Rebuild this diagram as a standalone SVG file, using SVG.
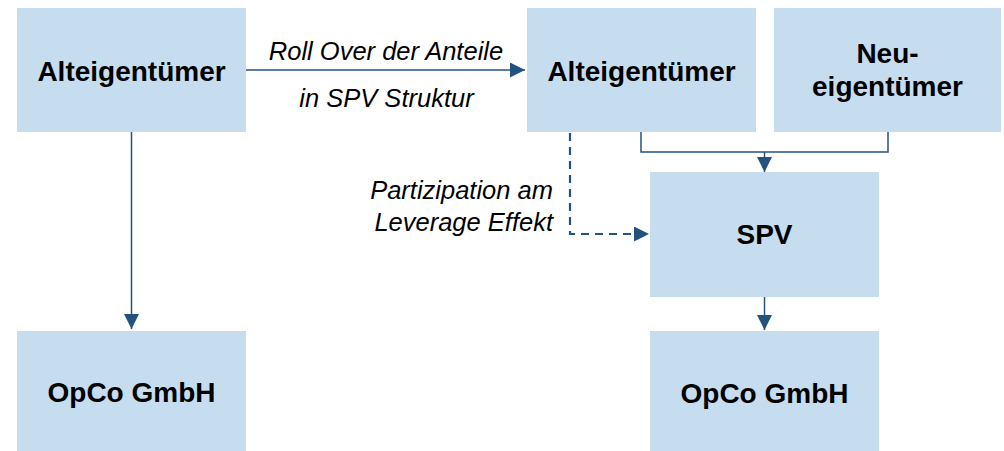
<svg xmlns="http://www.w3.org/2000/svg" width="1004" height="451" viewBox="0 0 1004 451">
  <style>
    .box { fill: #C6DDF0; }
    .lbl { font-family: "Liberation Sans", Arial, sans-serif; font-weight: bold; font-size: 28px; fill: #000; text-anchor: middle; }
    .note { font-family: "Liberation Sans", Arial, sans-serif; font-style: italic; font-size: 25.5px; fill: #000; }
    .wire { fill: none; stroke: #24527F; stroke-width: 1.5; }
    .dash { fill: none; stroke: #24527F; stroke-width: 2.2; stroke-dasharray: 8 6; }
  </style>
  <defs>
    <marker id="head" markerUnits="userSpaceOnUse" markerWidth="15" markerHeight="15" refX="15" refY="7.5" orient="auto">
      <path d="M0,0 L15,7.5 L0,15 z" fill="#24527F"/>
    </marker>
  </defs>
  <rect width="1004" height="451" fill="#fff"/>

  <g id="alt-links">
    <rect class="box" x="17" y="8" width="229" height="124"/>
    <text class="lbl" x="131.5" y="81">Alteigentümer</text>
  </g>
  <g id="opco-links">
    <rect class="box" x="17" y="331" width="229" height="120"/>
    <text class="lbl" x="131.5" y="402">OpCo GmbH</text>
  </g>
  <g id="alt-rechts">
    <rect class="box" x="527" y="8" width="229" height="124"/>
    <text class="lbl" x="641.5" y="81">Alteigentümer</text>
  </g>
  <g id="neu">
    <rect class="box" x="774" y="8" width="227" height="124"/>
    <text class="lbl" x="887.5" y="63">Neu-</text>
    <text class="lbl" x="887.5" y="96">eigentümer</text>
  </g>
  <g id="spv">
    <rect class="box" x="650" y="172" width="229" height="125"/>
    <text class="lbl" x="764.5" y="244">SPV</text>
  </g>
  <g id="opco-rechts">
    <rect class="box" x="650" y="331" width="229" height="120"/>
    <text class="lbl" x="764.5" y="403">OpCo GmbH</text>
  </g>

  <g id="connectors">
    <path class="wire" d="M131.5,132 V329" marker-end="url(#head)"/>
    <path class="wire" d="M246,70 H525" marker-end="url(#head)"/>
    <path class="wire" d="M641,132 V152 H888 V132"/>
    <path class="wire" d="M764.5,152 V172" marker-end="url(#head)"/>
    <path class="dash" d="M570,133 V234 H649" marker-end="url(#head)"/>
    <path class="wire" d="M764.5,297 V330" marker-end="url(#head)"/>
  </g>

  <g id="labels">
    <text class="note" x="386" y="60" text-anchor="middle">Roll Over der Anteile</text>
    <text class="note" x="386.5" y="107" text-anchor="middle">in SPV Struktur</text>
    <text class="note" x="553" y="199" text-anchor="end">Partizipation am</text>
    <text class="note" x="553" y="231" text-anchor="end">Leverage Effekt</text>
  </g>
</svg>
